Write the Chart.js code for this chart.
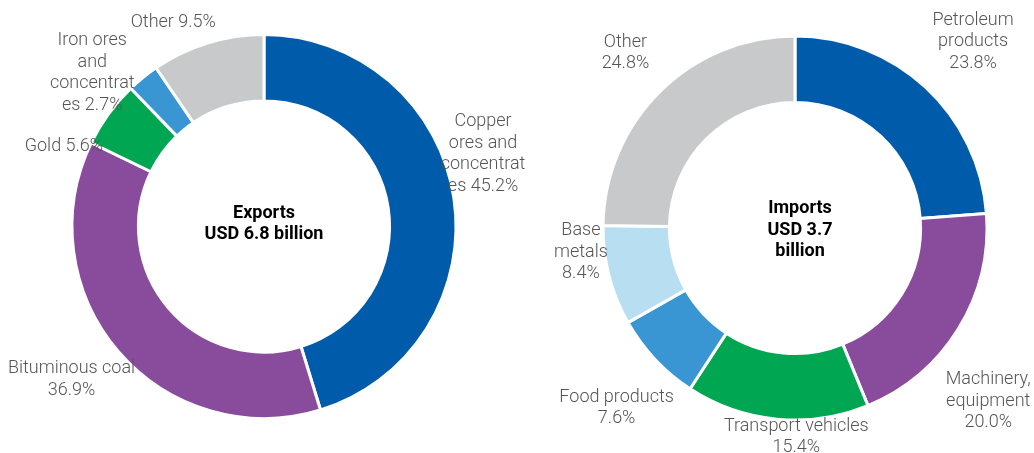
<!DOCTYPE html>
<html>
<head>
<meta charset="utf-8">
<script src="https://cdn.jsdelivr.net/npm/chart.js@4"></script>
<style>
  html, body { margin: 0; padding: 0; background: #fff; overflow: hidden; }
  #wrap { position: relative; width: 1034px; height: 453px; overflow: hidden; }
  canvas { position: absolute; top: 0; }
  #exportsChart { left: 0; }
  #importsChart { left: 540px; }
</style>
</head>
<body>
<div id="wrap">
  <canvas id="exportsChart" width="528" height="453"></canvas>
  <canvas id="importsChart" width="510" height="453"></canvas>
</div>
<script>
// Exports by product, share of total (%)
const exportCategories = ['Copper ores and concentrates', 'Bituminous coal', 'Gold', 'Iron ores and concentrates', 'Other'];
const exportShares = [45.2, 36.9, 5.6, 2.7, 9.5];
const exportLabelLines = [
  ['Copper', 'ores and', 'concentrat', 'es {v}'],
  ['Bituminous coal', '{v}'],
  ['Gold {v}'],
  ['Iron ores', 'and', 'concentrat', 'es {v}'],
  ['Other {v}']
];
const exportTitle = ['Exports', 'USD 6.8 billion'];

// Imports by product, share of total (%)
const importCategories = ['Petroleum products', 'Machinery, equipment', 'Transport vehicles', 'Food products', 'Base metals', 'Other'];
const importShares = [23.8, 20.0, 15.4, 7.6, 8.4, 24.8];
const importLabelLines = [
  ['Petroleum', 'products', '{v}'],
  ['Machinery,', 'equipment', '{v}'],
  ['Transport vehicles', '{v}'],
  ['Food products', '{v}'],
  ['Base', 'metals', '{v}'],
  ['Other', '{v}']
];
const importTitle = ['Imports', 'USD 3.7', 'billion'];

const exportColors = ['#005BAA', '#894C9C', '#00A651', '#3A96D2', '#C8C9CB'];
const importColors = ['#005BAA', '#894C9C', '#00A651', '#3A96D2', '#B8DEF1', '#C8C9CB'];

// label placement: pixel nudges from the point just outside each slice's mid-angle
const exportLabelNudge = [[1.5, -40], [-25.5, 9.5], [-22, 49.5], [-33, 17], [-26, 6.5]];
const importLabelNudge = [[28.5, -25], [6, 57.5], [22, -10], [-18, 29.5], [-1, -30.5], [-15, -18.5]];

const LABEL_FONT = '300 18px Roboto, "Noto Sans", sans-serif';
const TITLE_FONT = 'bold 18px Roboto, "Noto Sans", sans-serif';
const LINE_H = 21.5;

const donutLabels = {
  id: 'donutLabels',
  afterDatasetsDraw(chart, args, opts) {
    const ctx = chart.ctx;
    const meta = chart.getDatasetMeta(0);
    const values = chart.data.datasets[0].data;
    ctx.save();
    ctx.textAlign = 'center';
    ctx.textBaseline = 'middle';
    ctx.font = LABEL_FONT;
    ctx.fillStyle = '#555555';
    let cx = 0, cy = 0;
    meta.data.forEach((arc, i) => {
      const p = arc.getProps(['x', 'y', 'startAngle', 'endAngle', 'outerRadius'], true);
      cx = p.x; cy = p.y;
      const mid = (p.startAngle + p.endAngle) / 2;
      const r = p.outerRadius + 28;
      const nudge = opts.nudge[i];
      const ax = p.x + Math.cos(mid) * r + nudge[0];
      const ay = p.y + Math.sin(mid) * r + nudge[1];
      const lines = opts.lines[i].map(s => s.replace('{v}', values[i].toFixed(1) + '%'));
      const top = ay - (lines.length - 1) * LINE_H / 2;
      lines.forEach((s, k) => ctx.fillText(s, ax, top + k * LINE_H));
    });
    // centre caption
    ctx.font = TITLE_FONT;
    ctx.fillStyle = '#000';
    const t = opts.title;
    const tTop = cy + opts.titleShift[1] - (t.length - 1) * LINE_H / 2;
    t.forEach((s, k) => ctx.fillText(s, cx + opts.titleShift[0], tTop + k * LINE_H));
    ctx.restore();
  }
};

function makeDonut(id, labels, values, colors, lines, nudge, title, titleShift, padTop) {
  return new Chart(document.getElementById(id), {
    type: 'doughnut',
    data: {
      labels: labels,
      datasets: [{
        data: values,
        backgroundColor: colors,
        borderColor: '#ffffff',
        borderWidth: 3,
        hoverOffset: 0
      }]
    },
    options: {
      responsive: false,
      animation: false,
      radius: 192,
      cutout: '65.4%',
      layout: { padding: { top: padTop } },
      plugins: {
        legend: { display: false },
        tooltip: { enabled: false },
        donutLabels: { lines: lines, nudge: nudge, title: title, titleShift: titleShift }
      }
    },
    plugins: [donutLabels]
  });
}

makeDonut('exportsChart', exportCategories, exportShares, exportColors, exportLabelLines, exportLabelNudge, exportTitle, [0, -2.5], 0);
makeDonut('importsChart', importCategories, importShares, importColors, importLabelLines, importLabelNudge, importTitle, [5, 2], 3);
</script>
</body>
</html>
